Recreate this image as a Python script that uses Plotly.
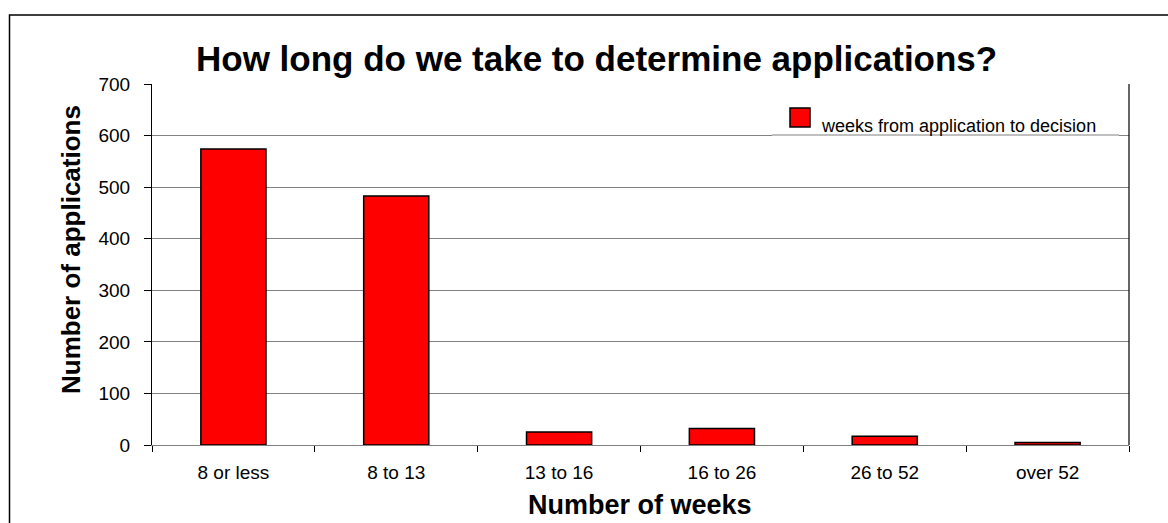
import plotly.graph_objects as go

categories = ["8 or less", "8 to 13", "13 to 16", "16 to 26", "26 to 52", "over 52"]
applications = [574, 483, 25, 32, 17, 5]
series_name = "weeks from application to decision"
title_text = "How long do we take to determine applications?"
x_title = "Number of weeks"
y_title = "Number of applications"
y_ticks = [0, 100, 200, 300, 400, 500, 600, 700]

W, H = 1168, 523
L, R, T, B = 152, 1129, 84, 445


def px(x):
    return (x - L) / (R - L)


def py(y):
    return (B - y) / (B - T)


fig = go.Figure()
fig.add_trace(go.Bar(
    x=categories, y=applications, name=series_name,
    marker=dict(color="#FF0000", line=dict(color="#000000", width=1.5)),
    showlegend=False,
))

font = "Liberation Sans, Arial, sans-serif"

fig.update_layout(
    width=W, height=H,
    margin=dict(l=L, r=W - R, t=T, b=H - B, pad=0),
    paper_bgcolor="white", plot_bgcolor="white",
    bargap=0.6,
    font=dict(family=font, color="black"),
    xaxis=dict(
        type="category", tickson="boundaries", ticks="outside", ticklen=6,
        tickcolor="#000000", tickwidth=1,
        showline=True, linecolor="#808080", linewidth=1, mirror=False,
        showgrid=False, tickfont=dict(size=19, family=font), ticklabelstandoff=10,
    ),
    yaxis=dict(
        range=[0, 700], tickvals=y_ticks, ticks="outside", ticklen=7,
        tickcolor="#000000", tickwidth=1,
        showline=True, linecolor="#000000", linewidth=1,
        showgrid=True, gridcolor="#808080", gridwidth=1.2, zeroline=False,
        tickfont=dict(size=19, family=font), ticklabelstandoff=10,
    ),
)

shapes = [
    # outer chart frame
    dict(type="rect", xref="paper", yref="paper",
         x0=px(9.5), x1=px(1200), y0=py(560), y1=py(15),
         line=dict(color="black", width=1.5), fillcolor="rgba(0,0,0,0)", layer="below"),
    # right plot border
    dict(type="line", xref="paper", yref="paper", x0=1, x1=1, y0=0, y1=1,
         line=dict(color="black", width=1.2)),
    # legend box
    dict(type="rect", xref="paper", yref="paper",
         x0=px(772), x1=px(1119), y0=py(137), y1=py(95),
         line=dict(width=0), fillcolor="white"),
    dict(type="line", xref="paper", yref="paper",
         x0=px(772), x1=px(1119), y0=py(135), y1=py(135),
         line=dict(color="#808080", width=1)),
    # legend swatch
    dict(type="rect", xref="paper", yref="paper",
         x0=px(790), x1=px(810), y0=py(127), y1=py(108),
         line=dict(color="black", width=1.5), fillcolor="#FF0000"),
]
fig.update_layout(shapes=shapes)

annotations = [
    dict(text="<b>" + title_text + "</b>", xref="paper", yref="paper",
         x=px(596), y=py(58), xanchor="center", yanchor="middle",
         showarrow=False, font=dict(size=35, family=font, color="black")),
    dict(text="<b>" + x_title + "</b>", xref="paper", yref="paper",
         x=px(640), y=py(505), xanchor="center", yanchor="middle",
         showarrow=False, font=dict(size=27, family=font, color="black")),
    dict(text="<b>" + y_title + "</b>", xref="paper", yref="paper",
         x=px(71), y=py(250), xanchor="center", yanchor="middle", textangle=-90,
         showarrow=False, font=dict(size=26, family=font, color="black")),
    dict(text=series_name, xref="paper", yref="paper",
         x=px(819), y=py(126), xanchor="left", yanchor="middle",
         showarrow=False, font=dict(size=18, family=font, color="black")),
]
fig.update_layout(annotations=annotations)

fig.write_html("out.html")
